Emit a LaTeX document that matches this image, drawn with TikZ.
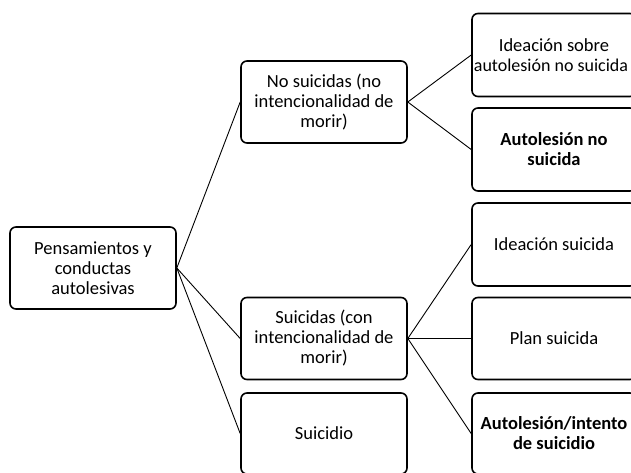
\documentclass[tikz,border=0pt]{standalone}
\usepackage{fontspec}
\setmainfont{Carlito}
\begin{document}
\begin{tikzpicture}[x=1pt,y=-1pt,
  box/.style={draw=black, line width=1.6pt, rounded corners=6pt,
    minimum width=166pt, minimum height=82pt, align=center, inner sep=0pt,
    font=\fontsize{18.5}{20}\selectfont},
  rbox/.style={box, minimum width=164pt},
  link/.style={line width=0.9pt}]
\useasboundingbox (0,0) rectangle (631,472);
\fill[white] (0,0) rectangle (631,472);
\node[box] (root) at (93,268) {Pensamientos y\\conductas\\autolesivas};
\node[box] (m1) at (324,102) {No suicidas (no\\intencionalidad de\\morir)};
\node[box] (m2) at (324,338.5) {Suicidas (con\\intencionalidad de\\morir)};
\node[box, minimum height=81pt] (m3) at (324,433.5) {Suicidio};
\node[rbox, minimum height=83pt] (r1) at (554,55) {Ideación sobre\\{\fontsize{18}{20}\selectfont autolesión no suicida}\hspace*{6pt}};
\node[rbox, minimum height=83pt] (r2) at (554,149.5) {\bfseries Autolesión no\\\bfseries suicida};
\node[rbox, minimum height=83pt] (r3) at (554,244.5) {Ideación suicida};
\node[rbox] (r4) at (554,338.5) {Plan suicida};
\node[rbox, minimum height=81pt] (r5) at (554,433.5) {\bfseries Autolesión/intento\\\bfseries de suicidio};
\draw[link] (root.east) -- (m1.west);
\draw[link] (root.east) -- (m2.west);
\draw[link] (root.east) -- (m3.west);
\draw[link] (m1.east) -- (r1.west);
\draw[link] (m1.east) -- (r2.west);
\draw[link] (m2.east) -- (r3.west);
\draw[link] (m2.east) -- (r4.west);
\draw[link] (m2.east) -- (r5.west);
\end{tikzpicture}
\end{document}
